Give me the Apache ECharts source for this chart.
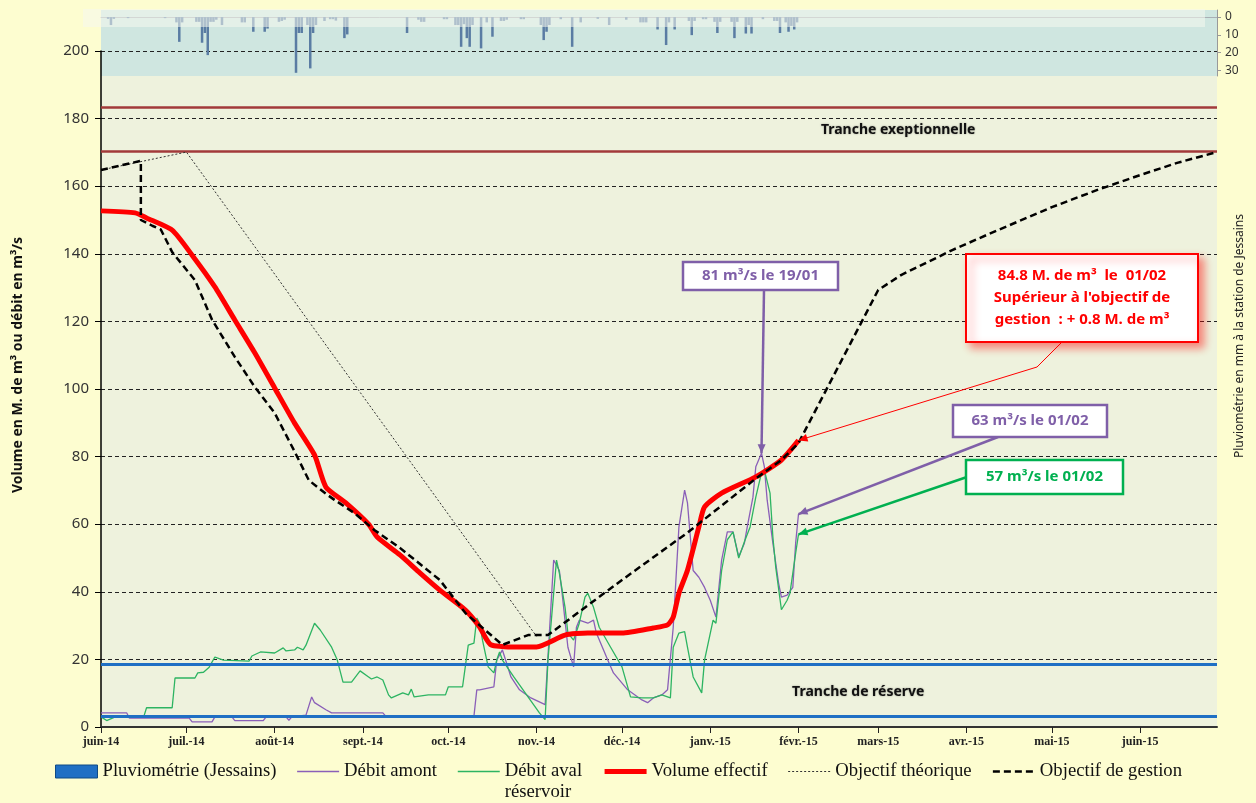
<!DOCTYPE html>
<html>
<head>
<meta charset="utf-8">
<title>Volume du réservoir</title>
<script src="https://cdn.jsdelivr.net/npm/echarts@6.0.0/dist/echarts.min.js"></script>
<style>
html, body { margin: 0; padding: 0; background: #fdfdd0; }
#main { width: 1256px; height: 803px; }
</style>
</head>
<body>
<div id="main"></div>
<script>
// axe des dates
var startDay = '2014-06-01';
var endDay = '2015-06-28';
var monthTicks = ['2014-06-01', '2014-07-01', '2014-08-01', '2014-09-01', '2014-10-01', '2014-11-01',
    '2014-12-01', '2015-01-01', '2015-02-01', '2015-03-01', '2015-04-01', '2015-05-01', '2015-06-01'];
var monthLabels = ['juin-14', 'juil.-14', 'août-14', 'sept.-14', 'oct.-14', 'nov.-14',
    'déc.-14', 'janv.-15', 'févr.-15', 'mars-15', 'avr.-15', 'mai-15', 'juin-15'];
var rainTicks = [0, 10, 20, 30];

// pluviométrie journalière (mm), jours sans pluie omis
var rain = [
    ['2014-06-03', 1], ['2014-06-04', 4.5], ['2014-06-05', 1], ['2014-06-10', 0.6], ['2014-06-23', 0.6],
    ['2014-06-27', 3], ['2014-06-28', 14], ['2014-06-29', 3],
    ['2014-07-04', 2.7], ['2014-07-05', 2.7], ['2014-07-06', 14.5], ['2014-07-07', 9], ['2014-07-08', 21.5],
    ['2014-07-09', 2.7], ['2014-07-10', 2.7], ['2014-07-11', 1.5], ['2014-07-13', 4.5],
    ['2014-07-20', 3], ['2014-07-21', 3], ['2014-07-24', 8.3], ['2014-07-28', 8.3], ['2014-07-29', 6.5],
    ['2014-08-02', 2.7], ['2014-08-03', 2.2], ['2014-08-04', 1.5],
    ['2014-08-08', 31.5], ['2014-08-09', 9], ['2014-08-10', 9], ['2014-08-12', 4.5], ['2014-08-13', 29],
    ['2014-08-14', 9], ['2014-08-15', 4.5], ['2014-08-18', 2.2], ['2014-08-20', 1.2], ['2014-08-21', 1.2],
    ['2014-08-22', 2], ['2014-08-25', 11.9], ['2014-08-26', 9.8],
    ['2014-09-16', 9], ['2014-09-20', 1.5], ['2014-09-21', 2.7], ['2014-09-22', 2.7], ['2014-09-29', 1.2], ['2014-09-30', 1.2],
    ['2014-10-03', 4.5], ['2014-10-04', 4.5], ['2014-10-05', 16.8], ['2014-10-06', 4], ['2014-10-07', 11.9],
    ['2014-10-08', 16.8], ['2014-10-09', 4.5], ['2014-10-12', 17.7], ['2014-10-14', 3], ['2014-10-16', 11.1],
    ['2014-10-19', 2.2], ['2014-10-20', 2.2], ['2014-10-21', 1.5], ['2014-10-26', 1.2], ['2014-10-27', 1.2],
    ['2014-11-02', 4.5], ['2014-11-03', 13], ['2014-11-04', 8.3], ['2014-11-05', 4.5], ['2014-11-09', 1.2],
    ['2014-11-13', 16.8], ['2014-11-16', 3], ['2014-11-22', 1], ['2014-11-26', 4.5],
    ['2014-12-02', 1.5], ['2014-12-07', 3], ['2014-12-08', 3], ['2014-12-09', 3], ['2014-12-13', 7],
    ['2014-12-16', 15.8], ['2014-12-17', 3], ['2014-12-19', 7], ['2014-12-24', 2.2], ['2014-12-25', 10.2],
    ['2014-12-26', 2.2], ['2014-12-29', 1.2], ['2014-12-30', 1.2],
    ['2015-01-02', 2.7], ['2015-01-03', 9], ['2015-01-04', 2.7], ['2015-01-08', 2.7], ['2015-01-09', 11.9],
    ['2015-01-10', 2.7], ['2015-01-13', 9.3], ['2015-01-14', 4.5], ['2015-01-15', 9.3], ['2015-01-19', 1.2],
    ['2015-01-23', 2.2], ['2015-01-24', 2.2], ['2015-01-25', 9], ['2015-01-27', 3], ['2015-01-28', 8.3],
    ['2015-01-29', 5], ['2015-01-30', 7], ['2015-01-31', 3]
];

var debitAmont = [
    ['2014-06-01', 4.2], ['2014-06-10', 4.2], ['2014-06-11', 2.6], ['2014-07-02', 2.6], ['2014-07-03', 1.5],
    ['2014-07-10', 1.5], ['2014-07-11', 3], ['2014-07-17', 3], ['2014-07-18', 1.9], ['2014-07-28', 1.9],
    ['2014-07-29', 3], ['2014-08-05', 3], ['2014-08-06', 2], ['2014-08-07', 3], ['2014-08-12', 3.5],
    ['2014-08-14', 8.9], ['2014-08-15', 7.2], ['2014-08-19', 5.1], ['2014-08-21', 4.2], ['2014-09-08', 4.2],
    ['2014-09-09', 3.2], ['2014-10-10', 3.2], ['2014-10-11', 11], ['2014-10-12', 11], ['2014-10-17', 11.9],
    ['2014-10-18', 19.8], ['2014-10-20', 22.8], ['2014-10-23', 14.8], ['2014-10-26', 11], ['2014-10-30', 8.6],
    ['2014-11-04', 6.6], ['2014-11-07', 49.4], ['2014-11-09', 46.3], ['2014-11-10', 39.3], ['2014-11-12', 23.6],
    ['2014-11-14', 17.8], ['2014-11-15', 29.5], ['2014-11-16', 31.6], ['2014-11-19', 30.7], ['2014-11-21', 31.6],
    ['2014-11-22', 27.8], ['2014-11-26', 19.8], ['2014-11-28', 16], ['2014-12-03', 11], ['2014-12-08', 8],
    ['2014-12-10', 7.2], ['2014-12-12', 8.6], ['2014-12-15', 9.5], ['2014-12-17', 11], ['2014-12-19', 29.5],
    ['2014-12-21', 59.2], ['2014-12-23', 70.1], ['2014-12-24', 66.3], ['2014-12-26', 46.3], ['2014-12-28', 44.3],
    ['2014-12-30', 41.3], ['2015-01-01', 37.5], ['2015-01-03', 32.5], ['2015-01-05', 49.4], ['2015-01-07', 57.7],
    ['2015-01-09', 57.7], ['2015-01-11', 50.4], ['2015-01-13', 54.4], ['2015-01-14', 59.2], ['2015-01-16', 68],
    ['2015-01-17', 77], ['2015-01-19', 81], ['2015-01-20', 77], ['2015-01-21', 67.1], ['2015-01-23', 54.4],
    ['2015-01-25', 42.6], ['2015-01-26', 38.4], ['2015-01-28', 39], ['2015-01-30', 41.3], ['2015-01-31', 54.4],
    ['2015-02-01', 63]
];

var debitAval = [
    ['2014-06-01', 3], ['2014-06-03', 1.9], ['2014-06-06', 3], ['2014-06-16', 3], ['2014-06-17', 5.7],
    ['2014-06-26', 5.7], ['2014-06-27', 14.5], ['2014-07-04', 14.5], ['2014-07-05', 16], ['2014-07-07', 16.2],
    ['2014-07-09', 17.7], ['2014-07-11', 20.7], ['2014-07-14', 19.8], ['2014-07-23', 19.5], ['2014-07-24', 21],
    ['2014-07-27', 22.2], ['2014-08-01', 21.9], ['2014-08-04', 23.4], ['2014-08-05', 22.5], ['2014-08-08', 22.8],
    ['2014-08-09', 23.6], ['2014-08-11', 22.8], ['2014-08-12', 24.2], ['2014-08-15', 30.7], ['2014-08-17', 28.7],
    ['2014-08-21', 23.6], ['2014-08-23', 19.8], ['2014-08-25', 13.3], ['2014-08-28', 13.3], ['2014-08-31', 16.6],
    ['2014-09-03', 14.8], ['2014-09-04', 14.2], ['2014-09-06', 14.8], ['2014-09-08', 13.9], ['2014-09-10', 9.5],
    ['2014-09-11', 8.6], ['2014-09-15', 10.1], ['2014-09-17', 9.5], ['2014-09-18', 11.2], ['2014-09-19', 8.9],
    ['2014-09-24', 9.5], ['2014-09-30', 9.5], ['2014-10-01', 11.9], ['2014-10-06', 11.9], ['2014-10-08', 24.2],
    ['2014-10-10', 24.8], ['2014-10-11', 32.2], ['2014-10-12', 30.7], ['2014-10-13', 25.7], ['2014-10-15', 17.8],
    ['2014-10-17', 16], ['2014-10-18', 19.8], ['2014-10-19', 22.2], ['2014-10-20', 19.8], ['2014-10-24', 14.8],
    ['2014-10-29', 8.9], ['2014-11-02', 4.2], ['2014-11-04', 2.2], ['2014-11-05', 19.8], ['2014-11-07', 39.6],
    ['2014-11-08', 49.4], ['2014-11-09', 45.5], ['2014-11-11', 35.4], ['2014-11-12', 27.8], ['2014-11-14', 25.7],
    ['2014-11-16', 30.7], ['2014-11-18', 38.4], ['2014-11-19', 39.6], ['2014-11-21', 35.4], ['2014-11-23', 29.5],
    ['2014-11-27', 23.6], ['2014-12-01', 17.8], ['2014-12-04', 8.9], ['2014-12-08', 8.6], ['2014-12-12', 8.6],
    ['2014-12-15', 9.5], ['2014-12-18', 8.6], ['2014-12-19', 23.6], ['2014-12-21', 27.8], ['2014-12-23', 28.2],
    ['2014-12-24', 23.6], ['2014-12-26', 14.8], ['2014-12-29', 10.1], ['2014-12-30', 19.8], ['2015-01-02', 31.6],
    ['2015-01-03', 30.7], ['2015-01-05', 46.3], ['2015-01-07', 55.4], ['2015-01-09', 57.7], ['2015-01-11', 50],
    ['2015-01-13', 54.8], ['2015-01-15', 59.2], ['2015-01-17', 68], ['2015-01-19', 75.2], ['2015-01-20', 76.1],
    ['2015-01-22', 69.2], ['2015-01-23', 56.2], ['2015-01-24', 47.3], ['2015-01-26', 34.7], ['2015-01-28', 37.5],
    ['2015-01-29', 39.6], ['2015-01-31', 51.4], ['2015-02-01', 57]
];

var volumeEffectif = [
    ['2014-06-01', 152.7], ['2014-06-13', 152.1], ['2014-06-17', 150.6], ['2014-06-26', 147], ['2014-07-03', 139.6],
    ['2014-07-11', 130.2], ['2014-07-18', 120.4], ['2014-07-25', 110.7], ['2014-08-01', 100.3], ['2014-08-08', 89.9],
    ['2014-08-15', 80.5], ['2014-08-19', 71], ['2014-08-26', 66.3], ['2014-09-03', 60], ['2014-09-06', 56.2],
    ['2014-09-14', 50.9], ['2014-09-21', 45.6], ['2014-09-28', 40.5], ['2014-10-07', 34.6], ['2014-10-12', 29.6],
    ['2014-10-14', 26.5], ['2014-10-16', 24.3], ['2014-10-22', 23.7], ['2014-11-01', 23.7], ['2014-11-11', 27.2],
    ['2014-11-19', 27.8], ['2014-12-01', 27.8], ['2014-12-12', 29.3], ['2014-12-17', 30.2], ['2014-12-19', 32.5],
    ['2014-12-21', 39.6], ['2014-12-24', 46.4], ['2014-12-28', 59.2], ['2014-12-30', 65.1], ['2015-01-05', 69.2],
    ['2015-01-17', 74], ['2015-01-26', 79], ['2015-02-01', 84.8]
];

var objectifTheorique = [
    ['2014-06-01', 164.8], ['2014-07-01', 170.1], ['2014-11-01', 26.8]
];

var objectifGestion = [
    ['2014-06-01', 164.8], ['2014-06-15', 167.5], ['2014-06-15', 150], ['2014-06-19', 148.3], ['2014-06-22', 147.2],
    ['2014-06-26', 140.5], ['2014-07-04', 132.2], ['2014-07-10', 120.5], ['2014-07-18', 109.5], ['2014-07-25', 100.6],
    ['2014-08-01', 92.9], ['2014-08-08', 81.5], ['2014-08-13', 73], ['2014-08-19', 69], ['2014-08-22', 67.2],
    ['2014-08-29', 63.3], ['2014-09-05', 58.3], ['2014-09-14', 53], ['2014-09-28', 43.5], ['2014-10-07', 33.7],
    ['2014-10-20', 24.3], ['2014-10-29', 27.2], ['2014-11-05', 27.2], ['2014-12-01', 43.5], ['2014-12-24', 57.5],
    ['2015-01-17', 73.5], ['2015-01-26', 79], ['2015-02-01', 84], ['2015-03-01', 129.3], ['2015-03-09', 133.7],
    ['2015-03-27', 141.1], ['2015-04-12', 147], ['2015-05-01', 153.8], ['2015-05-17', 158.9], ['2015-06-01', 163.3],
    ['2015-06-14', 166.9], ['2015-06-28', 170.1]
];

var trancheExceptionnelle = [170.4, 183.5];
var trancheReserve = [3.1, 18.7];

function toTime(s) {
    var p = s.split('-');
    return new Date(+p[0], +p[1] - 1, +p[2]).getTime();
}
// jours écoulés depuis le 1er juin 2014
function dayIndex(s) {
    return Math.round((toTime(s) - toTime(startDay)) / 86400000);
}
function toSeries(list) {
    return list.map(function (p) { return [dayIndex(p[0]), p[1]]; });
}
function pad(n) { return n < 10 ? '0' + n : '' + n; }

// une catégorie par jour pour l'histogramme de pluie
var rainDays = [];
var rainValues = [];
var rainMap = {};
rain.forEach(function (p) { rainMap[p[0]] = p[1]; });
for (var d = new Date(2014, 5, 1); d.getTime() < toTime(endDay); d.setDate(d.getDate() + 1)) {
    var key = d.getFullYear() + '-' + pad(d.getMonth() + 1) + '-' + pad(d.getDate());
    rainDays.push(key);
    rainValues.push(rainMap[key] != null ? rainMap[key] : 0);
}

var monthDays = monthTicks.map(dayIndex);
var noSymbol = {color: 'rgba(0,0,0,0)', borderColor: 'rgba(0,0,0,0)', borderWidth: 0};

var myChart = echarts.init(document.getElementById('main'));

var option = {
    backgroundColor: '#fdfdd0',
    animation: false,
    textStyle: {fontFamily: 'Noto Sans'},
    grid: [
        {left: 101, right: 39, top: 51, height: 676, show: true, backgroundColor: '#eef2dd', borderWidth: 0},
        {left: 101, right: 39, top: 10, height: 66, show: true, backgroundColor: '#cfe6e0', borderWidth: 0}
    ],
    legend: {
        left: 55,
        top: 740,
        padding: 0,
        itemWidth: 42,
        itemHeight: 13,
        itemGap: 20,
        selectedMode: false,
        textStyle: {fontFamily: 'Liberation Serif', fontSize: 18.7, lineHeight: 21, color: '#111'},
        formatter: function (name) {
            // "Débit aval" sur la ligne de la légende, "réservoir" dessous
            return name === 'Débit aval réservoir' ? ' \nDébit aval\nréservoir' : name;
        },
        data: [
            {name: 'Pluviométrie (Jessains)', icon: 'rect',
                itemStyle: {color: '#1f6fc4', borderColor: '#0f4a85', borderWidth: 1}},
            {name: 'Débit amont', itemStyle: noSymbol, lineStyle: {width: 1.5}},
            {name: 'Débit aval réservoir', itemStyle: noSymbol, lineStyle: {width: 1.5}},
            {name: 'Volume effectif', itemStyle: noSymbol, lineStyle: {width: 5}},
            {name: 'Objectif théorique', itemStyle: noSymbol, lineStyle: {width: 1}},
            {name: 'Objectif de gestion', itemStyle: noSymbol, lineStyle: {width: 2.5}}
        ]
    },
    xAxis: [
        {
            type: 'value',
            gridIndex: 0,
            min: 0,
            max: dayIndex(endDay),
            axisLine: {lineStyle: {color: '#333', width: 2}},
            axisTick: {show: true, customValues: monthDays, length: 6, lineStyle: {color: '#222'}},
            axisLabel: {
                customValues: monthDays,
                margin: 9,
                fontFamily: 'Liberation Serif',
                fontWeight: 'bold',
                fontSize: 12,
                color: '#222',
                formatter: function (v) {
                    var i = monthDays.indexOf(v);
                    return i >= 0 ? monthLabels[i] : '';
                }
            },
            splitLine: {show: false}
        },
        {
            type: 'category',
            gridIndex: 1,
            position: 'top',
            data: rainDays,
            boundaryGap: true,
            axisLine: {onZero: true, lineStyle: {color: '#a8afb4'}},
            axisTick: {interval: 0, length: 5, lineStyle: {color: '#a8afb4'}},
            axisLabel: {show: false},
            splitLine: {show: false}
        }
    ],
    yAxis: [
        {
            type: 'value',
            gridIndex: 0,
            min: 0,
            max: 200,
            interval: 20,
            axisLine: {show: true, lineStyle: {color: '#000', width: 1.5}},
            axisTick: {show: true, length: 6, lineStyle: {color: '#000'}},
            axisLabel: {fontSize: 15, color: '#333', margin: 12},
            splitLine: {lineStyle: {color: '#222', type: [4, 3], width: 1}}
        },
        {
            type: 'value',
            gridIndex: 1,
            position: 'right',
            inverse: true,
            min: -4,
            max: 33.3,
            axisLine: {show: true, lineStyle: {color: '#999'}},
            axisTick: {show: true, customValues: rainTicks, length: 4, lineStyle: {color: '#999'}},
            axisLabel: {customValues: rainTicks, fontSize: 12, color: '#333', margin: 8},
            splitLine: {show: false}
        }
    ],
    series: [
        {
            name: 'Pluviométrie (Jessains)',
            type: 'bar',
            xAxisIndex: 1,
            yAxisIndex: 1,
            data: rainValues,
            barCategoryGap: '12%',
            itemStyle: {color: '#5a7ca3'},
            z: 2
        },
        {
            name: 'Débit amont',
            type: 'line',
            data: toSeries(debitAmont),
            symbol: 'none',
            lineStyle: {color: '#8a5fb8', width: 1.3},
            itemStyle: {color: '#8a5fb8'},
            z: 3
        },
        {
            name: 'Débit aval réservoir',
            type: 'line',
            data: toSeries(debitAval),
            symbol: 'none',
            lineStyle: {color: '#2db462', width: 1.3},
            itemStyle: {color: '#2db462'},
            z: 4
        },
        {
            name: 'Volume effectif',
            type: 'line',
            data: toSeries(volumeEffectif),
            symbol: 'none',
            smooth: 0.2,
            lineStyle: {color: '#ff0000', width: 5},
            itemStyle: {color: '#ff0000'},
            z: 5
        },
        {
            name: 'Objectif théorique',
            type: 'line',
            data: toSeries(objectifTheorique),
            symbol: 'none',
            lineStyle: {color: '#333', width: 1, type: [2, 2]},
            itemStyle: {color: '#333'},
            z: 6
        },
        {
            name: 'Objectif de gestion',
            type: 'line',
            data: toSeries(objectifGestion),
            symbol: 'none',
            lineStyle: {color: '#000', width: 2.5, type: [7, 4]},
            itemStyle: {color: '#000'},
            z: 7,
            markLine: {
                silent: true,
                symbol: ['none', 'none'],
                label: {show: false},
                data: [
                    {yAxis: trancheExceptionnelle[0], lineStyle: {color: '#a23a3a', width: 2.5, type: 'solid'}},
                    {yAxis: trancheExceptionnelle[1], lineStyle: {color: '#a23a3a', width: 2.5, type: 'solid'}},
                    {yAxis: trancheReserve[0], lineStyle: {color: '#1f6fc4', width: 3, type: 'solid'}},
                    {yAxis: trancheReserve[1], lineStyle: {color: '#1f6fc4', width: 3, type: 'solid'}}
                ]
            },
            markPoint: {
                silent: true,
                symbol: 'circle',
                symbolSize: 1,
                itemStyle: {color: 'rgba(0,0,0,0)'},
                label: {
                    show: true,
                    position: 'inside',
                    formatter: '{b}',
                    fontFamily: 'Noto Sans',
                    fontWeight: 'bold',
                    fontSize: 14,
                    color: '#111',
                    textShadowColor: 'rgba(0,0,0,0.35)',
                    textShadowBlur: 2
                },
                data: [
                    {name: 'Tranche exeptionnelle', coord: [dayIndex('2015-03-08'), 176.6]},
                    {name: 'Tranche de réserve', coord: [dayIndex('2015-02-22'), 10.4]}
                ]
            }
        }
    ]
};

myChart.setOption(option);

// annotations (encadrés + flèches vers les points)
function px(day, v) {
    return myChart.convertToPixel({xAxisIndex: 0, yAxisIndex: 0}, [dayIndex(day), v]);
}
function arrowHead(from, to, color) {
    var dx = to[0] - from[0], dy = to[1] - from[1];
    var len = Math.sqrt(dx * dx + dy * dy);
    var ux = dx / len, uy = dy / len;
    var bx = to[0] - ux * 9, by = to[1] - uy * 9;
    return {
        type: 'polygon', silent: true, z: 120,
        shape: {points: [[to[0], to[1]], [bx - uy * 4, by + ux * 4], [bx + uy * 4, by - ux * 4]]},
        style: {fill: color}
    };
}
function box(x, y, w, h, color, text, lw, extra) {
    var rectStyle = {fill: '#fff', stroke: color, lineWidth: lw};
    if (extra) {
        for (var k in extra) rectStyle[k] = extra[k];
    }
    return [
        {type: 'rect', silent: true, z: 121, shape: {x: x, y: y, width: w, height: h}, style: rectStyle},
        {type: 'text', silent: true, z: 122, x: x + w / 2, y: y + h / 2,
            style: {text: text, fill: color, font: 'bold 15px "Noto Sans"', align: 'center',
                verticalAlign: 'middle', lineHeight: 22}}
    ];
}
function leader(points, color, width) {
    return {type: 'polyline', silent: true, z: 120, shape: {points: points},
        style: {stroke: color, lineWidth: width, fill: null}};
}

var purple = '#7f5fa8';
var green = '#00b050';
var red = '#ff0000';
var pPeak = px('2015-01-19', 81);
var pVol = px('2015-02-01', 84.8);
var pAmont = px('2015-02-01', 63);
var pAval = px('2015-02-01', 57);

var graphics = [
    {type: 'rect', silent: true, z: 100, shape: {x: 83, y: 9, width: 1122, height: 18},
        style: {fill: 'rgba(246,248,238,0.55)'}},
    {type: 'text', silent: true, x: 18, y: 365, rotation: Math.PI / 2,
        style: {text: 'Volume en M. de m³ ou débit en m³/s', font: 'bold 14px "Noto Sans"', fill: '#111',
            align: 'center', verticalAlign: 'middle'}},
    {type: 'text', silent: true, x: 1240, y: 336, rotation: Math.PI / 2,
        style: {text: 'Pluviométrie en mm à la station de Jessains', font: '12px "Noto Sans"', fill: '#222',
            align: 'center', verticalAlign: 'middle'}}
];

var s1 = [764, 290];
graphics.push(leader([s1, pPeak], purple, 2.5), arrowHead(s1, pPeak, purple));
graphics = graphics.concat(box(683, 262, 155, 28, purple, '81 m³/s le 19/01', 2.5));

var s2 = [1037, 367];
graphics.push(leader([[1062, 342], s2, pVol], red, 1), arrowHead(s2, pVol, red));
graphics = graphics.concat(box(966, 254, 232, 88, red,
    '84.8 M. de m³  le  01/02\nSupérieur à l\'objectif de\ngestion  : + 0.8 M. de m³', 2,
    {shadowBlur: 8, shadowColor: 'rgba(255,0,0,0.45)', shadowOffsetX: 5, shadowOffsetY: 5}));

var s3 = [998, 437];
graphics.push(leader([s3, pAmont], purple, 2.5), arrowHead(s3, pAmont, purple));
graphics = graphics.concat(box(953, 405, 154, 32, purple, '63 m³/s le 01/02', 2.5));

var s4 = [967, 477];
graphics.push(leader([s4, pAval], green, 2.5), arrowHead(s4, pAval, green));
graphics = graphics.concat(box(966, 460, 157, 34, green, '57 m³/s le 01/02', 2.5));

myChart.setOption({graphic: graphics});
</script>
</body>
</html>
